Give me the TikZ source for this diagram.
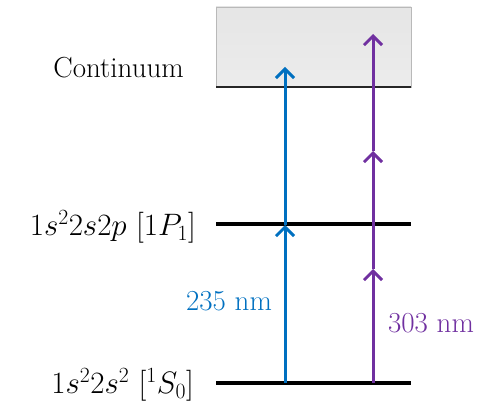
\RequirePackage{fix-cm}
\documentclass[tikz,border=0pt]{standalone}
\usetikzlibrary{arrows.meta}
\definecolor{myblue}{HTML}{0070C0}
\definecolor{mypurple}{HTML}{7030A0}
\tikzset{
  level/.style={line width=4pt, black},
  photon/.style={line width=3pt, -{Straight Barb[length=9pt,width=18pt,line width=3pt]}},
  lbl/.style={font=\fontsize{29}{33}\selectfont, inner sep=0pt},
  mlbl/.style={font=\fontsize{31}{35}\selectfont, inner sep=0pt},
}
\begin{document}
\begin{tikzpicture}[x=1pt,y=1pt]
\useasboundingbox (0,0) rectangle (477,402);
% continuum box
\shade[top color=gray!20, bottom color=gray!15, draw=gray!55, line width=0.8pt] (216,315) rectangle (411,395);
\draw[line width=1.6pt, black!85] (216,315) -- (411,315);
% levels
\coordinate (g1) at (216,19); \coordinate (g2) at (411,19);
\coordinate (m1) at (216,178); \coordinate (m2) at (411,178);
\draw[level] (g1) -- (g2);
\draw[level] (m1) -- (m2);
% arrows
\coordinate (b0) at (285,19);
\coordinate (b1) at (285,177);
\coordinate (b2) at (285,335);
\coordinate (p0) at (373,19);
\coordinate (p1) at (373,133);
\coordinate (p2) at (373,251);
\coordinate (p3) at (373,368);
\draw[photon, myblue] (b0) -- (b1);
\draw[photon, myblue] (b1) -- (b2);
\draw[photon, mypurple] (p0) -- (p1);
\draw[photon, mypurple] (p1) -- (p2);
\draw[photon, mypurple] (p2) -- (p3);
% labels
\node[lbl, anchor=east] (cont) at (184,334) {Continuum};
\node[mlbl, anchor=east] (mid) at (196,175) {$1s^2 2s2p\ [1P_1]$};
\node[mlbl, anchor=east] (gnd) at (194,17) {$1s^2 2s^2\ [{}^1S_0]$};
\node[lbl, myblue] (l235) at (229,101) {235 nm};
\node[lbl, mypurple] (l303) at (431,79) {303 nm};
\end{tikzpicture}
\end{document}
